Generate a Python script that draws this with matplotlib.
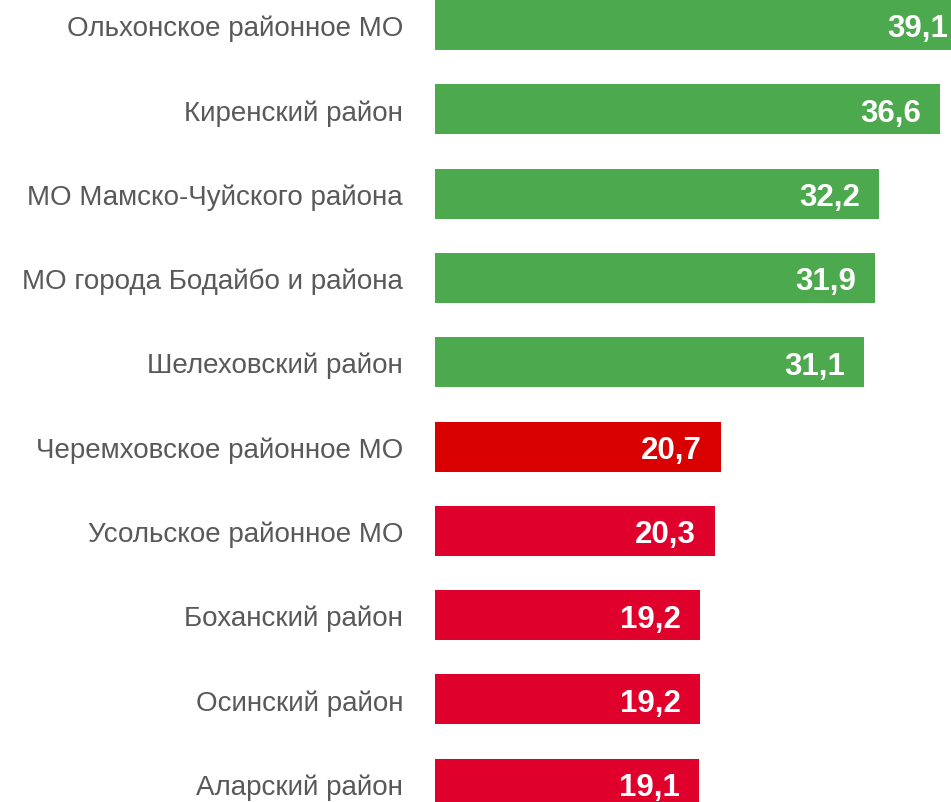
import matplotlib
matplotlib.use("Agg")
import matplotlib.pyplot as plt

# data, top to bottom
districts = [
    "Ольхонское районное МО",
    "Киренский район",
    "МО Мамско-Чуйского района",
    "МО города Бодайбо и района",
    "Шелеховский район",
    "Черемховское районное МО",
    "Усольское районное МО",
    "Боханский район",
    "Осинский район",
    "Аларский район",
]
values = [39.1, 36.6, 32.2, 31.9, 31.1, 20.7, 20.3, 19.2, 19.2, 19.1]
bar_colors = ["#4CA94E"] * 5 + ["#D80000"] + ["#E0002C"] * 4

plt.rcParams['font.family'] = ['Liberation Sans', 'DejaVu Sans']

W, H = 951, 803
fig = plt.figure(figsize=(W / 100, H / 100), dpi=100)
# bars start at x=435 px, axes runs to the right edge (longest bar gets cut)
ax = fig.add_axes([435 / W, 0, 1 - 435 / W, 1])

XMAX = 516 / 13.8   # ~13.8 px per unit
pitch = 84.3        # px between bar centres
top_c = 26          # px, centre of the first bar
ax.set_xlim(0, XMAX)
ax.set_ylim((H - top_c) / pitch, -top_c / pitch)

ypos = list(range(len(values)))
ax.barh(ypos, values, height=50 / pitch, color=bar_colors)

for y, v in zip(ypos, values):
    clipped = v > XMAX
    ax.annotate(f"{v:.1f}".replace(".", ","), xy=(min(v, XMAX), y),
                xytext=(-3 if clipped else -19, 0), textcoords="offset pixels",
                ha="right", va="center_baseline", color="white",
                fontsize=22.5, fontweight="bold")

ax.set_yticks(ypos)
ax.set_yticklabels(districts, fontsize=20, color="#595959")
ax.tick_params(axis="y", length=0, pad=23)
ax.set_xticks([])
for s in ax.spines.values():
    s.set_visible(False)

fig.savefig("out.png", dpi=100)
